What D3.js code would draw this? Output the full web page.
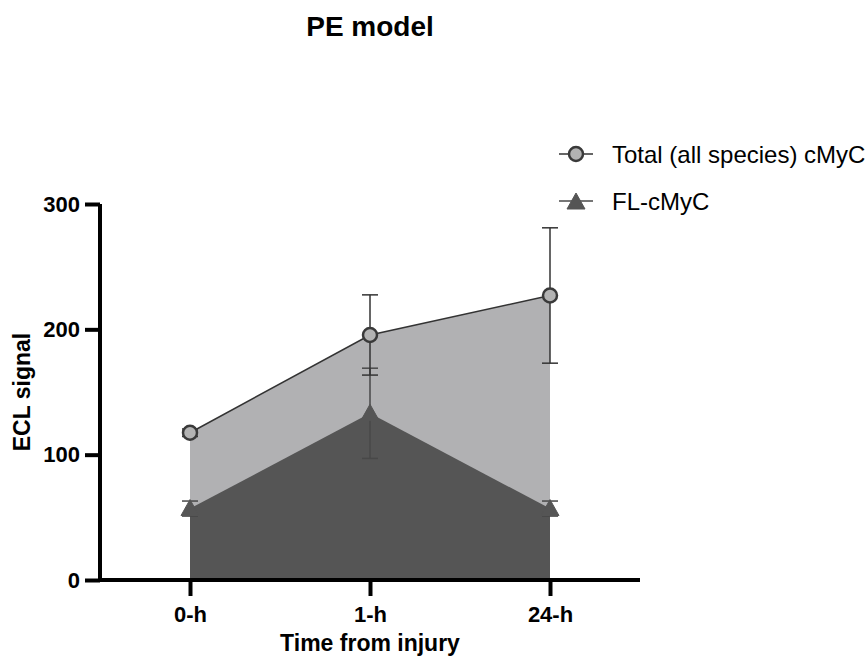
<!DOCTYPE html>
<html>
<head>
<meta charset="utf-8">
<script src="https://cdn.jsdelivr.net/npm/d3@7"></script>
<style>
  body { margin: 0; background: #fff; }
  svg { display: block; font-family: Arial, "Liberation Sans", sans-serif; }
</style>
</head>
<body>
<svg id="chart" width="867" height="658"></svg>
<script>
// Time points and measured ECL signal (mean ± SD)
const categories = ["0-h", "1-h", "24-h"];
const totalValues = [117.5, 195.5, 227];
const totalErrors = [3, 32, 54];
const flValues = [57, 133, 57];
const flErrors = [6, 36, 6];
const yTicks = [0, 100, 200, 300];
const seriesNames = ["Total (all species) cMyC", "FL-cMyC"];

const svg = d3.select("#chart");

const x = d3.scalePoint().domain(categories).range([100, 640]).padding(0.5);
const y = d3.scaleLinear().domain([0, 300]).range([580, 204]);

const lightFill = "#b1b1b3";
const darkFill = "#555555";
const lineColor = "#333333";

const total = categories.map((c, i) => ({ c, v: totalValues[i], e: totalErrors[i] }));
const fl = categories.map((c, i) => ({ c, v: flValues[i], e: flErrors[i] }));

const area = d3.area().x(d => x(d.c)).y0(y(0)).y1(d => y(d.v));
const line = d3.line().x(d => x(d.c)).y(d => y(d.v));

// Filled areas
svg.append("path").datum(total).attr("d", area).attr("fill", lightFill);
svg.append("path").datum(fl).attr("d", area).attr("fill", darkFill);

// Total series line
svg.append("path").datum(total).attr("d", line)
  .attr("fill", "none").attr("stroke", lineColor).attr("stroke-width", 1.5);

// Error bars
function errorBars(data, color) {
  const g = svg.append("g").attr("stroke", color).attr("stroke-width", 1.5).attr("fill", "none");
  data.forEach(d => {
    const cx = x(d.c);
    g.append("line").attr("x1", cx).attr("x2", cx).attr("y1", y(d.v - d.e)).attr("y2", y(d.v + d.e));
    [d.v - d.e, d.v + d.e].forEach(val => {
      g.append("line").attr("x1", cx - 8).attr("x2", cx + 8).attr("y1", y(val)).attr("y2", y(val));
    });
  });
}
errorBars(fl, "#484848");
errorBars(total, lineColor);

// Markers
const triangle = (cx, cy) => `M${cx},${cy - 9}L${cx + 9},${cy + 7}L${cx - 9},${cy + 7}Z`;
svg.append("g").selectAll("path").data(fl).join("path")
  .attr("d", d => triangle(x(d.c), y(d.v)))
  .attr("fill", darkFill).attr("stroke", darkFill).attr("stroke-width", 1).attr("stroke-linejoin", "round");

svg.append("g").selectAll("circle").data(total).join("circle")
  .attr("cx", d => x(d.c)).attr("cy", d => y(d.v)).attr("r", 7)
  .attr("fill", "#b3b3b3").attr("stroke", "#3a3a3a").attr("stroke-width", 2.5);

// Axes
const yAxis = svg.append("g").attr("transform", "translate(100,0)")
  .call(d3.axisLeft(y).tickValues(yTicks).tickSize(15).tickPadding(5).tickFormat(d3.format("d")));
const xAxis = svg.append("g").attr("transform", "translate(0,580)")
  .call(d3.axisBottom(x).tickSize(16).tickPadding(10));

[yAxis, xAxis].forEach(a => {
  a.select(".domain").attr("stroke", "#000").attr("stroke-width", 4);
  a.selectAll(".tick line").attr("stroke", "#000").attr("stroke-width", 4);
  a.selectAll(".tick text").attr("fill", "#000").attr("font-size", 22).attr("font-weight", "bold")
    .attr("font-family", "Arial, 'Liberation Sans', sans-serif");
});
yAxis.select(".domain").attr("d", `M0,${y(300)}V${y(0)}`);
xAxis.select(".domain").attr("d", "M98,0H640");

// Titles
svg.append("text").attr("x", 370).attr("y", 36).attr("text-anchor", "middle")
  .attr("font-size", 28).attr("font-weight", "bold").text("PE model");
svg.append("text").attr("x", 370).attr("y", 651).attr("text-anchor", "middle")
  .attr("font-size", 23).attr("font-weight", "bold").text("Time from injury");
svg.append("text").attr("transform", "translate(30,392) rotate(-90)").attr("text-anchor", "middle")
  .attr("font-size", 23).attr("font-weight", "bold").text("ECL signal");

// Legend
const legend = svg.append("g");
const ly = [154, 201];
seriesNames.forEach((name, i) => {
  legend.append("line").attr("x1", 559).attr("x2", 593).attr("y1", ly[i]).attr("y2", ly[i])
    .attr("stroke", i === 0 ? lineColor : "#484848").attr("stroke-width", 1.5);
  if (i === 0) {
    legend.append("circle").attr("cx", 576).attr("cy", ly[i]).attr("r", 7)
      .attr("fill", "#b3b3b3").attr("stroke", "#3a3a3a").attr("stroke-width", 2.5);
  } else {
    legend.append("path").attr("d", triangle(576, ly[i] + 1))
      .attr("fill", darkFill).attr("stroke", darkFill).attr("stroke-linejoin", "round");
  }
  legend.append("text").attr("x", 612).attr("y", ly[i] + 8.5)
    .attr("font-size", 24).attr("fill", "#000").text(name);
});
</script>
</body>
</html>
